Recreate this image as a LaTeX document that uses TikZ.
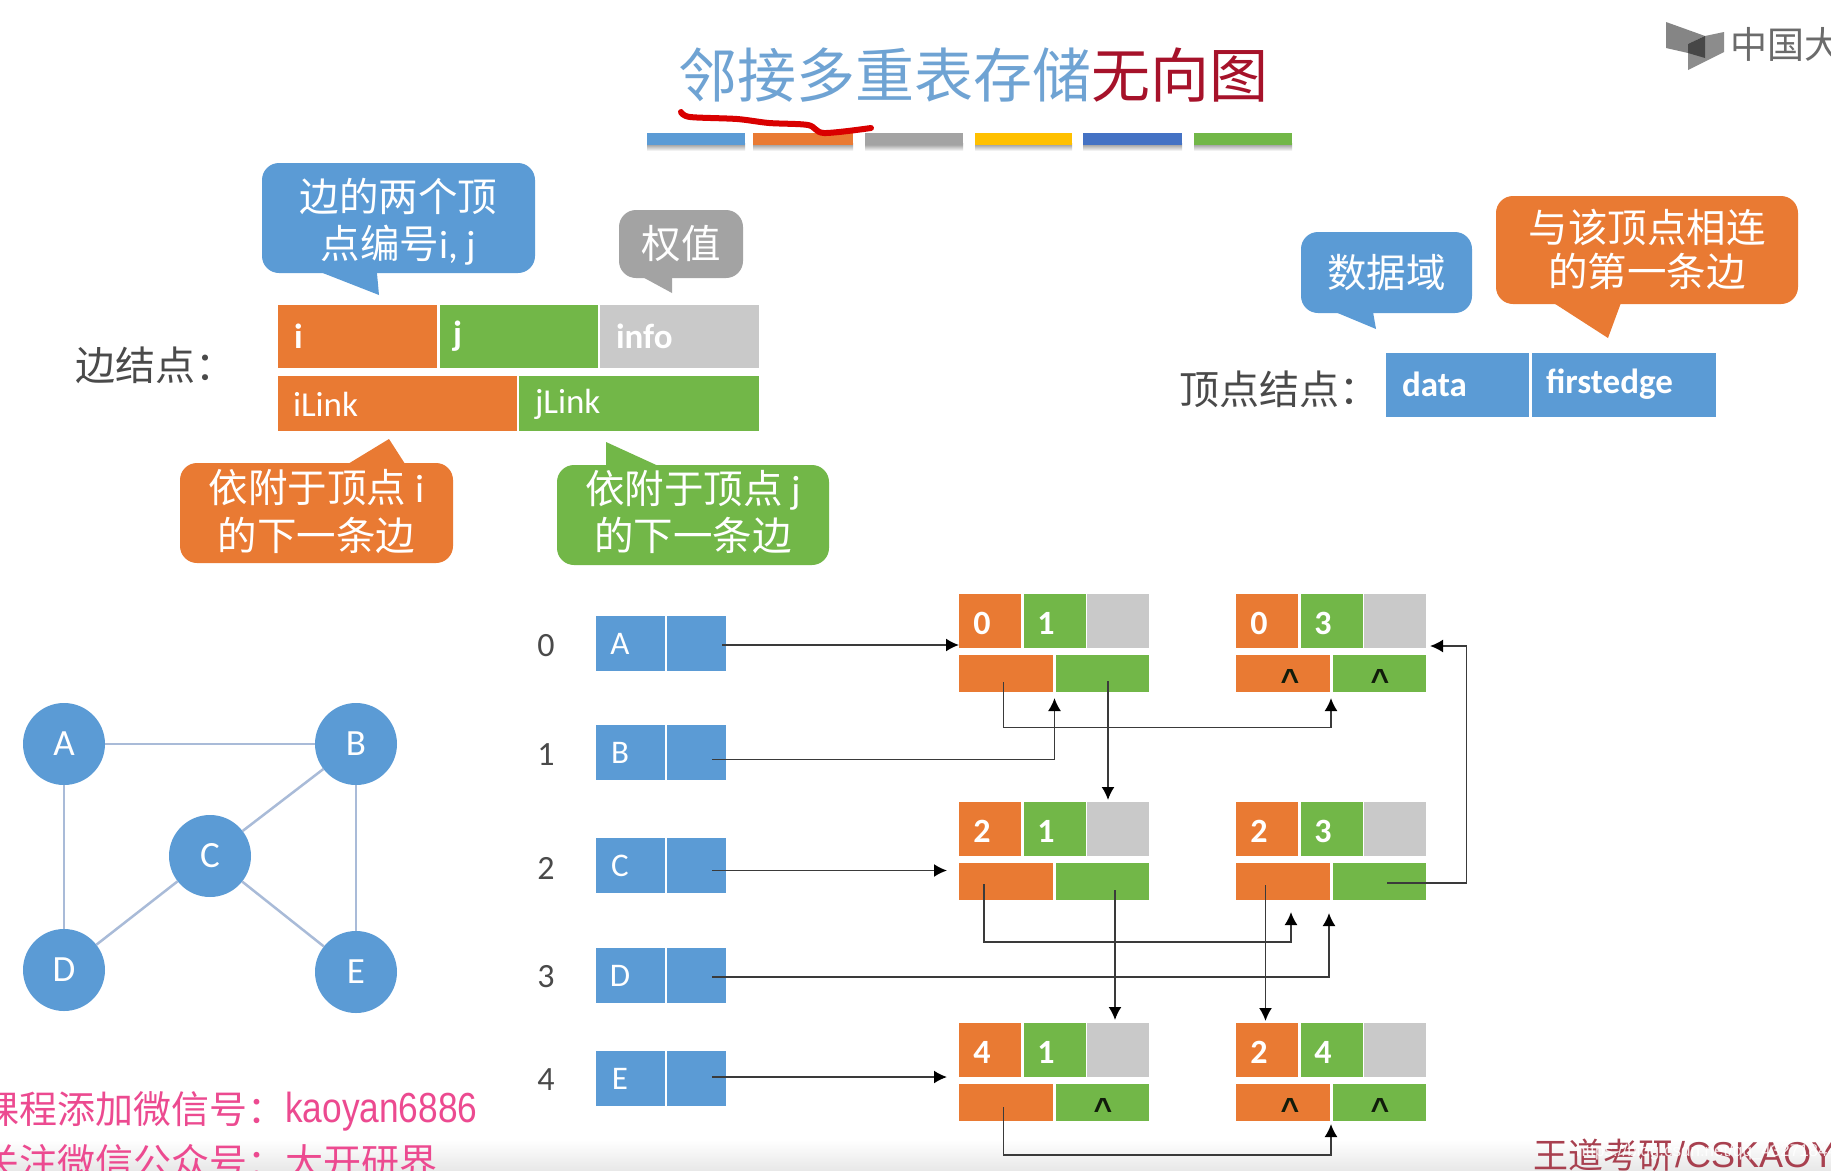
\documentclass[tikz,border=0pt]{standalone}
\usepackage{fontspec}
\setmainfont{Noto Sans CJK SC}
\newfontfamily\carl{Carlito}
\newfontfamily\libs{Liberation Sans}
\usetikzlibrary{arrows.meta}
\definecolor{cblue}{HTML}{5B9BD5}
\definecolor{corange}{HTML}{E97A33}
\definecolor{cgreen}{HTML}{72B748}
\definecolor{cgray}{HTML}{C9C9C9}
\definecolor{cgraydark}{HTML}{A3A3A3}
\definecolor{cyellow}{HTML}{FFC000}
\definecolor{croyal}{HTML}{4472C4}
\definecolor{titleblue}{HTML}{6FA3D3}
\definecolor{titlered}{HTML}{A6122A}
\definecolor{inkdark}{HTML}{4A4A4A}
\definecolor{wire}{HTML}{3A3A3A}
\definecolor{gline}{HTML}{A9BBD8}
\definecolor{pink}{HTML}{EC4A90}
\definecolor{wmred}{HTML}{A8404F}
\newcommand{\fs}[2]{\fontsize{#1}{#2}\selectfont}
\tikzset{
  x=1pt,y=-1pt,
  cellbox/.style={rectangle,inner sep=0pt,outer sep=0pt,draw=none},
  celltxt/.style={inner sep=0pt,outer sep=0pt,text=white},
  reclab/.style={celltxt,font=\carl\bfseries\fs{34}{40}},
  fieldlab/.style={celltxt,font=\carl\fs{35}{40}},
  fieldbold/.style={celltxt,font=\carl\bfseries\fs{35}{40}},
  caretlab/.style={inner sep=0pt,outer sep=0pt,text=#1,font=\libs\bfseries\fs{32}{36}},
  idx/.style={inner sep=0pt,outer sep=0pt,text=inkdark,font=\carl\fs{34}{40}},
  vtx/.style={circle,fill=cblue,minimum size=82pt,inner sep=0pt,outer sep=0pt,text=white,font=\carl\fs{37}{40}},
  gedge/.style={draw=gline,line width=2.5pt},
  wirea/.style={draw=wire,line width=1.8pt,-{Latex[length=13pt,width=13pt,black]}},
  heading/.style={inner sep=0pt,outer sep=0pt,font=\fs{59}{64}},
  caption/.style={inner sep=0pt,outer sep=0pt,text=inkdark,anchor=west,font=\fs{40}{44}},
}
\newcommand{\cellrect}[7]{%
  \node[cellbox,fill=#6,anchor=north west,minimum width={(#4)-(#2)},minimum height={(#5)-(#3)}] (#1) at (#2,#3) {#7};}
% \callout{name}{x1}{y1}{x2}{y2}{colour}{tail path}{line skip}{text}; text shift in \cshift
\newcommand{\cshift}{0pt}
\newcommand{\callout}[9]{%
  \fill[#6] #7;
  \node[rectangle,fill=#6,rounded corners=17pt,inner sep=0pt,outer sep=0pt,anchor=north west,
        minimum width={(#4)-(#2)},minimum height={(#5)-(#3)}] (#1) at (#2,#3) {};
  \node[inner sep=0pt,outer sep=0pt,text=white,align=center,font=\fs{39.5}{#8}] (#1t) at ([yshift=\cshift]#1.center) {#9};}
\newcommand{\edgerec}[7]{%
  \cellrect{#1i}{#2}{#3}{#2+62}{#3+54}{corange}{}
  \cellrect{#1j}{#2+64.5}{#3}{#2+126.5}{#3+54}{cgreen}{}
  \cellrect{#1w}{#2+128}{#3}{#2+190}{#3+54}{cgray}{}
  \cellrect{#1a}{#2}{#3+61}{#2+94}{#3+98}{corange}{}
  \cellrect{#1b}{#2+96.5}{#3+61}{#2+190}{#3+98}{cgreen}{}
  \node[reclab] (#1il) at (#2+23,#3+29) {#4};
  \node[reclab] (#1jl) at (#2+87,#3+29) {#5};
  \node[caretlab=black!85!cgreen,anchor=base] (#1al) at (#2+54,#3+97) {#6};
  \node[caretlab=black!85!cgreen,anchor=base] (#1bl) at (#2+144,#3+97) {#7};}
\newcommand{\vrow}[3]{%
  \cellrect{#1d}{596}{#2}{664.5}{#2+55}{cblue}{}
  \cellrect{#1p}{667}{#2}{726}{#2+55}{cblue}{}
  \node[celltxt,font=\carl\fs{33}{38}] (#1l) at (620,#2+28) {#3};}
\begin{document}
\begin{tikzpicture}
\clip (0,0) rectangle (1831,1170);
\fill[white] (0,0) rectangle (1831,1170);
\fill[top color=white,bottom color=black!9] (0,1140) rectangle (1831,1170);

% title
\node[heading,text=titleblue,anchor=east] (title1) at (1091.5,75) {邻接多重表存储};
\node[heading,text=titlered,anchor=west] (title2) at (1091.5,75) {无向图};
\foreach \nm/\xa/\xb/\cc in {b1/647/745/cblue,b2/753/853/corange,b3/865/963/cgraydark,b4/975/1072/cyellow,b5/1083/1182/croyal,b6/1194/1292/cgreen}{
  \fill[top color=black!45,bottom color=white] (\xa,143) rectangle (\xb,151);
  \fill[\cc] (\xa,133) rectangle (\xb,145);
}
\draw[line width=6pt,draw=red!85!black,line cap=round,line join=round]
  plot[smooth] coordinates {(681,112) (690,117) (737,119) (769,123) (808,125) (824,133) (871,128)};

% logo
\fill[black!48] (1666,22) -- (1705,36) -- (1688,44) -- (1688,53) -- (1666,48) -- cycle;
\fill[black!45] (1724,32) -- (1724,52) -- (1688,70) -- (1688,44) -- (1705,36) -- cycle;
\fill[black!72] (1705,36) -- (1705,58) -- (1688,53) -- (1688,44) -- cycle;
\node[inner sep=0pt,text=black!58,anchor=west,font=\fs{37}{40}] (logotext) at (1730,44) {中国大};

% edge-node legend
\node[caption] (capedge) at (75,365) {边结点：};
\renewcommand{\cshift}{-3.5pt}
\callout{cbij}{262}{163}{535}{273}{cblue}{(310,268) -- (379,295) -- (376.5,268) -- cycle}{46.5}{边的两个顶\\点编号{\carl i, j}}
\renewcommand{\cshift}{0pt}
\callout{cbw}{619}{210}{743}{278}{cgraydark}{(637,274) -- (672,293) -- (672,274) -- cycle}{47}{权值}
\cellrect{fi}{278}{305}{437}{368}{corange}{}
\cellrect{fj}{439.5}{305}{597.5}{368}{cgreen}{}
\cellrect{fw}{600}{305}{759}{368}{cgray}{}
\cellrect{fa}{278}{376}{516.5}{431}{corange}{}
\cellrect{fb}{519}{376}{759}{431}{cgreen}{}
\node[fieldbold,anchor=west] (ti) at (294,336) {i};
\node[fieldbold,anchor=west] (tj) at (453,336) {j};
\node[fieldbold,anchor=west] (tw) at (616,336) {info};
\node[fieldlab,anchor=west] (ta) at (293,404) {iLink};
\node[fieldlab,anchor=west] (tb) at (535,404) {jLink};
\renewcommand{\cshift}{1.5pt}
\callout{coi}{180}{463}{453}{563}{corange}{(343,467) -- (389,439) -- (407,467) -- cycle}{47.5}{依附于顶点 {\carl i}\\的下一条边}
\renewcommand{\cshift}{3pt}
\callout{cgj}{557}{465}{829}{565}{cgreen}{(606,469) -- (606,442) -- (665,469) -- cycle}{47.5}{依附于顶点 {\carl j}\\的下一条边}

% vertex-node legend
\renewcommand{\cshift}{0pt}
\callout{cbd}{1301}{232}{1472}{313}{cblue}{(1328,309) -- (1376,329) -- (1372.5,309) -- cycle}{44}{数据域}
\renewcommand{\cshift}{1pt}
\callout{cof}{1496}{196}{1798}{304}{corange}{(1549,300) -- (1608,338) -- (1622,300) -- cycle}{44}{与该顶点相连\\的第一条边}
\node[caption] (capvtx) at (1179,389) {顶点结点：};
\cellrect{fd}{1386}{353}{1529}{417}{cblue}{}
\cellrect{ff}{1531.5}{353}{1716}{417}{cblue}{}
\node[fieldbold,anchor=west] (td) at (1402,384) {data};
\node[fieldbold,anchor=west] (tf) at (1546,384) {firstedge};

% graph
\node[vtx] (gA) at (64,744) {A};
\node[vtx] (gB) at (356,744) {B};
\node[vtx] (gC) at (210,856) {C};
\node[vtx] (gD) at (64,970) {D};
\node[vtx] (gE) at (356,972) {E};
\draw[gedge] (gA) -- (gB);
\draw[gedge] (gA) -- (gD);
\draw[gedge] (gB) -- (gC);
\draw[gedge] (gB) -- (gE);
\draw[gedge] (gC) -- (gD);
\draw[gedge] (gC) -- (gE);

% vertex table
\vrow{v0}{616}{A}
\vrow{v1}{725}{B}
\vrow{v2}{838}{C}
\vrow{v3}{948}{D}
\vrow{v4}{1051}{E}
\node[idx] (n0) at (546,646) {0};
\node[idx] (n1) at (546,755) {1};
\node[idx] (n2) at (546,868) {2};
\node[idx] (n3) at (546,977) {3};
\node[idx] (n4) at (546,1080) {4};

% edge records
\edgerec{e01}{959}{594}{0}{1}{}{}
\edgerec{e03}{1236}{594}{0}{3}{\textasciicircum}{\textasciicircum}
\edgerec{e21}{959}{802}{2}{1}{}{}
\edgerec{e23}{1236}{802}{2}{3}{}{}
\edgerec{e41}{959}{1023}{4}{1}{}{\textasciicircum}
\edgerec{e24}{1236}{1023}{2}{4}{\textasciicircum}{\textasciicircum}

% connector end points
\coordinate (s0) at (722,645);
\coordinate (s1) at (712,759.5);
\coordinate (s2) at (712,870.5);
\coordinate (s3) at (712,977);
\coordinate (s4) at (712,1077);
\coordinate (t2) at (947,870.5);
\coordinate (t4) at (947,1077);
\coordinate (t01) at (1054.5,698);
\coordinate (t03) at (1331,698);
\coordinate (a01) at (1003.5,682);
\coordinate (b01) at (1108,681);
\coordinate (t21) at (1108,800);
\coordinate (a21) at (984,884);
\coordinate (b21) at (1115,890);
\coordinate (t41) at (1115,1020);
\coordinate (t23a) at (1291,912);
\coordinate (t23b) at (1329,913);
\coordinate (a23) at (1265.5,885);
\coordinate (t24a) at (1265.5,1021);
\coordinate (b23) at (1387,883);
\coordinate (t03w) at (1430,646);
\coordinate (a41) at (1003.5,1107);
\coordinate (t24b) at (1331,1124);

% connectors
\draw[wirea] (s0) -- (s0 -| e01i.west);
\draw[wirea] (s1) -| (t01);
\draw[wirea] (a01) |- (1331,727.5) -- (t03);
\draw[wirea] (b01) -- (t21);
\draw[wirea] (s2) -- (t2);
\draw[wirea] (a21) |- (1291,942) -- (t23a);
\draw[wirea] (b21) -- (t41);
\draw[wirea] (a23) -- (t24a);
\draw[wirea] (b23) -| (1466.5,646) -- (t03w);
\draw[wirea] (s3) -| (t23b);
\draw[wirea] (s4) -- (t4);
\draw[wirea] (a41) |- (1331,1155) -- (t24b);

% footer text
\node[inner sep=0pt,text=pink,anchor=west,font=\fs{38}{42}] (promo1) at (-19,1109) {课程添加微信号：};
\node[inner sep=0pt,text=pink,anchor=west,font=\libs\fs{42}{46}] (promo1b) at (285,1112) {\scalebox{0.84}[1]{kaoyan6886}};
\node[inner sep=0pt,text=pink,anchor=west,font=\fs{38}{42}] (promo2) at (-19,1162) {关注微信公众号：大开研界};
\node[inner sep=0pt,text=wmred,anchor=west,font=\fs{35}{40}] (wm1) at (1533,1155) {王道考研};
\node[inner sep=0pt,text=wmred,anchor=west,font=\libs\fs{36}{40}] (wm2) at (1675,1155) {/CSKAOY};
\node[inner sep=0pt,text=white,opacity=.85,anchor=west,font=\libs\fs{17}{20}] (wm3) at (1576,1152) {https://blog.csdn.net/qq\_43271844};
\end{tikzpicture}
\end{document}
